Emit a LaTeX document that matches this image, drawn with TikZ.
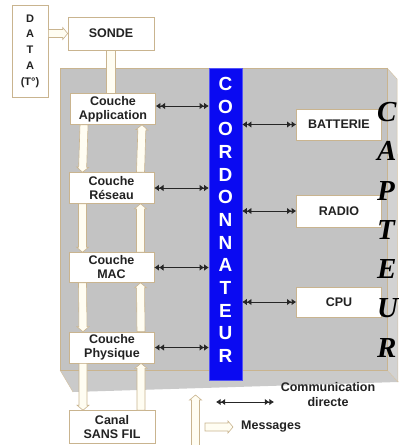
\documentclass[tikz,border=0pt]{standalone}
\usepackage{fontspec}
\setmainfont{Liberation Sans}
\newfontfamily\capfont{Liberation Serif}
\usepackage{xcolor}
\usetikzlibrary{positioning,arrows.meta,calc}
\definecolor{cbBlue}{HTML}{0A0AF2}
\definecolor{cbGray}{HTML}{C3C3C3}
\definecolor{cbSide}{HTML}{D2D2D2}
\definecolor{cbBottom}{HTML}{CACACA}
\definecolor{cbTan}{HTML}{C9B48F}
\definecolor{cbCream}{HTML}{FFFDF2}
\definecolor{cbText}{HTML}{222222}
\tikzset{
  dtip/.tip={Latex[length=4.6pt,width=6.5pt] Latex[length=4.6pt,width=6.5pt]},
  layer/.style={draw=cbTan,fill=white,line width=0.6pt,minimum width=85pt,
    minimum height=31pt,align=center,inner sep=1pt,text=cbText,
    font=\bfseries\fontsize{12.5}{14}\selectfont},
  unitbox/.style={layer,minimum height=31pt},
  coordletter/.style={text=white,inner sep=0pt,font=\bfseries\fontsize{19}{19}\selectfont},
  capletter/.style={anchor=west,inner sep=0pt,text=black,
    font=\capfont\bfseries\itshape\fontsize{29}{29}\selectfont},
  legend/.style={text=cbText,inner sep=0pt,align=center,
    font=\bfseries\fontsize{12.5}{15}\selectfont},
  link/.style={dtip-dtip,line width=0.8pt,draw=black!85},
  msg/.style={draw=cbTan,fill=cbCream,line width=0.6pt,
    to path={let \p1=(\tikztostart),\p2=(\tikztotarget),
      \p3=($(\p2)!5pt!(\p1)$) in
      ($(\p1)!4pt!90:(\p2)$) -- ($(\p3)!4pt!-90:(\p1)$) -- ($(\p3)!6pt!-90:(\p1)$)
      -- (\p2) -- ($(\p3)!6pt!90:(\p1)$) -- ($(\p3)!4pt!90:(\p1)$)
      -- ($(\p1)!4pt!-90:(\p2)$) -- cycle}},
  strip/.style={draw=cbTan,fill=cbCream,line width=0.6pt,
    to path={($(\tikztostart)!4.5pt!90:(\tikztotarget)$) -- ($(\tikztotarget)!4.5pt!-90:(\tikztostart)$)
      -- ($(\tikztotarget)!4.5pt!90:(\tikztostart)$) -- ($(\tikztostart)!4.5pt!-90:(\tikztotarget)$) -- cycle}}
}
\begin{document}
\begin{tikzpicture}[x=1pt,y=-1pt]
  \useasboundingbox (0,0) rectangle (399,445);

  % capteur body
  \fill[cbBottom] (60,370) -- (387,370) -- (398,382) -- (73,392) -- cycle;
  \fill[cbSide] (387,68) -- (397,79) -- (398,382) -- (387,370) -- cycle;
  \draw[cbTan!80,line width=0.5pt] (387,370) -- (398,382) (387,68) -- (397,79) -- (398,382);
  \draw[cbTan!80,line width=0.5pt] (60,370) -- (73,392);
  \filldraw[fill=cbGray,draw=cbTan,line width=0.6pt] (60,68) rectangle (387,370);

  % coordinator
  \node[draw=cbBlue!70!white,fill=cbBlue,minimum width=33pt,minimum height=312pt,inner sep=0pt]
    (coord) at (225.5,224) {};
  \foreach \ch [count=\i from 0] in {C,O,O,R,D,O,N,N,A,T,E,U,R} {
    \node[coordletter] (cl\i) at (225.5,84+22.67*\i) {\ch};
  }

  % outside
  \node[layer,minimum width=36pt,minimum height=92pt,font=\bfseries\fontsize{11}{15.7}\selectfont]
    (data) at (30,51) {D\\A\\T\\A\\(T°)};
  \node[layer,minimum width=86pt,minimum height=33pt] (sonde) at (111,33.5) {SONDE};

  % layers
  \node[layer] (app) at (113,109) {Couche\\Application};
  \node[layer] (res) at (111.5,188) {Couche\\Réseau};
  \node[layer,minimum height=30pt] (mac) at (111.5,267.5) {Couche\\MAC};
  \node[layer] (phy) at (112,347.5) {Couche\\Physique};
  \node[layer,minimum width=86pt,minimum height=33pt] (canal) at (112,427) {Canal\\SANS FIL};

  % units
  \node[unitbox] (batt) at (339,124.5) {BATTERIE};
  \node[unitbox,minimum height=32pt] (radio) at (339,211) {RADIO};
  \node[unitbox,minimum height=30pt] (cpu) at (339,302) {CPU};

  \foreach \ch [count=\i from 0] in {C,A,P,T,E,U,R} {
    \node[capletter] (cp\i) at (377,112+39.3*\i) {\ch};
  }

  % messages
  \draw[msg] (data.east |- sonde.west) to (sonde.west);
  \draw[strip] (sonde.south) to (sonde.south |- app.north);
  \foreach \a/\b in {app/res,res/mac,mac/phy,phy/canal} {
    \draw[msg] ([xshift=-29pt]\a.south) to ([xshift=-29pt]\b.north);
    \draw[msg] ([xshift=29pt]\b.north) to ([xshift=29pt]\a.south);
  }

  % direct links
  \draw[link] ([yshift=3pt]app.east) -- ([yshift=3pt]app.east -| coord.west);
  \foreach \n in {res,mac,phy} {
    \draw[link] (\n.east) -- (\n.east -| coord.west);
  }
  \foreach \n in {batt,radio,cpu} {
    \draw[link] (coord.east |- \n.west) -- (\n.west);
  }

  % legend
  \coordinate (upfoot) at (195.5,446);
  \coordinate (uphead) at (195.5,395);
  \draw[msg] (upfoot) to (uphead);
  \node[legend] (comm) at (328,394.5) {Communication\\directe};
  \coordinate (cdl) at (216,402);
  \coordinate (cdr) at (274,402);
  \draw[link] (cdl) -- (cdr);
  \node[legend,anchor=west] (msgtxt) at (241,427) {Messages};
  \coordinate (msgtail) at (205,427);
  \draw[msg] (msgtail) to ([xshift=-8pt]msgtxt.west);
\end{tikzpicture}
\end{document}
